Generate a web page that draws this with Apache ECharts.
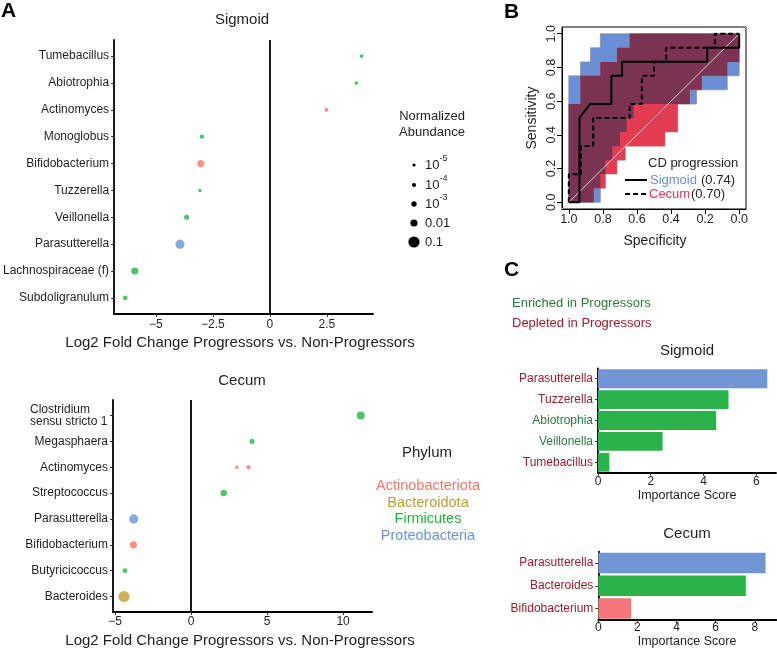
<!DOCTYPE html>
<html><head><meta charset="utf-8">
<script src="https://cdn.jsdelivr.net/npm/echarts@6/dist/echarts.min.js"></script>
<style>html,body{margin:0;padding:0;background:#fff}#c{width:777px;height:650px}</style>
</head><body><div id="c"></div>
<script>
// ===== Panel A data =====
const sigGenera = ['Tumebacillus','Abiotrophia','Actinomyces','Monoglobus','Bifidobacterium','Tuzzerella','Veillonella','Parasutterella','Lachnospiraceae (f)','Subdoligranulum'];
const sigLFC = [4.02, 3.79, 2.48, -2.98, -3.03, -3.07, -3.65, -3.94, -5.92, -6.34];
const sigAbund = [4e-5, 4e-5, 1e-4, 1.5e-4, 0.01, 2e-5, 6e-4, 0.03, 0.01, 3e-4];
const sigPhylum = ['Firmicutes','Firmicutes','Actinobacteriota','Firmicutes','Actinobacteriota','Firmicutes','Firmicutes','Proteobacteria','Firmicutes','Firmicutes'];

const cecGenera = ['Clostridium\nsensu stricto 1','Megasphaera','Actinomyces','Streptococcus','Parasutterella','Bifidobacterium','Butyricicoccus','Bacteroides'];
const cecPointGenus = [0, 1, 2, 2, 3, 4, 5, 6, 7];
const cecLFC = [11.16, 4.01, 3.01, 3.78, 2.15, -3.77, -3.79, -4.34, -4.41];
const cecAbund = [0.015, 6e-4, 2e-5, 1.5e-4, 0.004, 0.03, 0.01, 3e-4, 0.1];
const cecPhylum = ['Firmicutes','Firmicutes','Actinobacteriota','Actinobacteriota','Firmicutes','Proteobacteria','Actinobacteriota','Firmicutes','Bacteroidota'];

const sigTicks = [-5, -2.5, 0, 2.5];
const cecTicks = [-5, 0, 5, 10];

const phylumNames = ['Actinobacteriota','Bacteroidota','Firmicutes','Proteobacteria'];
const sizeLegendVals = [1e-5, 1e-4, 1e-3, 0.01, 0.1];
const sizeLegendLabels = [['10','-5'],['10','-4'],['10','-3'],['0.01',''],['0.1','']];

// ===== Panel B data (ROC) =====
const rocSigSpec = [1, 0.9375, 0.9375, 0.875, 0.75, 0.75, 0.6875, 0.6875, 0.1875, 0.1875, 0, 0];
const rocSigSens = [0, 0, 0.5, 0.5833, 0.5833, 0.75, 0.75, 0.8333, 0.8333, 0.9167, 0.9167, 1];
const rocCecSpec = [1, 1, 0.9286, 0.9286, 0.8571, 0.8571, 0.6429, 0.6429, 0.5714, 0.5714, 0.5, 0.5, 0.4286, 0.4286, 0.1429, 0.1429, 0];
const rocCecSens = [0, 0.1667, 0.1667, 0.3333, 0.3333, 0.5, 0.5, 0.5833, 0.5833, 0.75, 0.75, 0.8333, 0.8333, 0.9167, 0.9167, 1, 1];
// CI bands as step functions: [specificity where step starts (descending), sensitivity]
const ciSigUpper = [[1.0,0.75],[0.932,0.833],[0.873,0.917],[0.815,1.0]];
const ciSigLower = [[1.0,0],[0.815,0.167],[0.785,0.25],[0.745,0.333],[0.70,0.417],[0.66,0.5],[0.62,0.583],[0.25,0.667],[0.07,0.75]];
const ciCecUpper = [[1.0,0.583],[0.932,0.75],[0.815,0.833],[0.717,0.917],[0.643,1.0]];
const ciCecLower = [[1.0,0],[0.854,0.083],[0.785,0.167],[0.717,0.25],[0.668,0.333],[0.435,0.417],[0.36,0.583],[0.29,0.667],[0.22,0.75],[0.07,0.833]];
const rocTicks = [0, 0.2, 0.4, 0.6, 0.8, 1.0];
const aucSig = '0.74', aucCec = '0.70';

// ===== Panel C data =====
const impSigNames = ['Parasutterella','Tuzzerella','Abiotrophia','Veillonella','Tumebacillus'];
const impSigVals = [6.42, 4.95, 4.48, 2.45, 0.43];
const impSigGroup = ['Proteobacteria','Firmicutes','Firmicutes','Firmicutes','Firmicutes'];
const impSigDir = ['Depleted','Depleted','Enriched','Enriched','Depleted'];
const impCecNames = ['Parasutterella','Bacteroides','Bifidobacterium'];
const impCecVals = [8.55, 7.54, 1.68];
const impCecGroup = ['Proteobacteria','Firmicutes','Actinobacteriota'];
const impCecDir = ['Depleted','Depleted','Depleted'];
const impSigTicks = [0, 2, 4, 6];
const impCecTicks = [0, 2, 4, 6, 8];

// ===== styles =====
const FONT = '"Liberation Sans", Arial, Helvetica, sans-serif';
const phylumColors = {Actinobacteriota:'#F8766D', Bacteroidota:'#B8A032', Firmicutes:'#22B443', Proteobacteria:'#6C93D8'};
const barColors = {Actinobacteriota:'#F3777A', Bacteroidota:'#B8A032', Firmicutes:'#2CB24A', Proteobacteria:'#7096D4'};
const dirColors = {Enriched:'#2B7A3F', Depleted:'#9E1C2D'};
const sizeDiam = [3.1, 4.1, 5.4, 7.2, 11.2];
const TXT = '#1f1f1f';
const BLUE = '#6A8FD6', RED = '#E23B52', MAROON = '#7A3452';

function sizeOf(a){
  const l = Math.log10(a);
  if (l <= -5) return sizeDiam[0];
  if (l >= -1) return sizeDiam[4];
  const i = Math.floor(l + 5), f = l + 5 - i;
  return sizeDiam[i] + (sizeDiam[i+1]-sizeDiam[i]) * f;
}
const minus = v => (v < 0 ? '\u2212' : '') + Math.abs(v);

function stepVal(steps, s){
  let v = steps[0][1];
  for (const st of steps) if (s <= st[0]) v = st[1];
  return v;
}
function breaks(){
  const set = new Set([0]);
  for (const arr of arguments) for (const st of arr) set.add(st[0]);
  return Array.from(set).sort((a,b)=>b-a);
}
function band(lowF, upF, B){
  const up = [], lo = [];
  for (let i=0;i<B.length-1;i++){
    const a=B[i], b=B[i+1], m=(a+b)/2;
    up.push([a, upF(m)], [b, upF(m)]);
    lo.push([a, lowF(m)], [b, lowF(m)]);
  }
  return up.concat(lo.reverse());
}
const Ball = breaks(ciSigUpper, ciSigLower, ciCecUpper, ciCecLower);
const sigBand = band(s=>stepVal(ciSigLower,s), s=>stepVal(ciSigUpper,s), Ball);
const cecBand = band(s=>stepVal(ciCecLower,s), s=>stepVal(ciCecUpper,s), Ball);
const ovBand = band(s=>Math.max(stepVal(ciSigLower,s),stepVal(ciCecLower,s)),
                    s=>Math.min(stepVal(ciSigUpper,s),stepVal(ciCecUpper,s)), Ball);

function bandSeries(pts, fill, stroke){
  return {type:'custom', xAxisIndex:2, yAxisIndex:2, silent:true, data: pts,
    renderItem: function(params, api){
      if (params.dataIndex !== 0) return null;
      return {type:'polygon', shape:{points: pts.map(p=>api.coord(p))},
        style:{fill: fill, stroke: stroke || 'none', lineWidth: stroke ? 0.7 : 0}};
    }};
}

const axLine = {show:true, onZero:false, lineStyle:{color:'#000', width:1.8}};
const axTick = (cv) => ({show:true, customValues: cv, length:3, lineStyle:{color:'#333', width:1}});
const lab = (o) => Object.assign({fontFamily:FONT, fontSize:12, color:TXT}, o);

const sigIdx = sigGenera.map((_,i)=>i);
const cecIdx = cecGenera.map((_,i)=>i);

const option = {
  animation:false,
  backgroundColor:'#fff',
  grid:[
    {left:113, top:40, width:260, height:274},
    {left:113, top:400, width:259, height:212},
    {left:562, top:27, width:184, height:182, show:true, borderColor:'#000', borderWidth:1, backgroundColor:'transparent'},
    {left:598, top:368.3, width:178, height:104.4},
    {left:598.3, top:551.7, width:178, height:68.3}
  ],
  xAxis:[
    {gridIndex:0, type:'value', min:-6.83, max:4.52, axisLine:axLine, axisTick:axTick(sigTicks),
     axisLabel:lab({customValues:sigTicks, formatter:minus, margin:5}), splitLine:{show:false}},
    {gridIndex:1, type:'value', min:-5.13, max:11.9, axisLine:axLine, axisTick:axTick(cecTicks),
     axisLabel:lab({customValues:cecTicks, formatter:minus, margin:4}), splitLine:{show:false}},
    {gridIndex:2, type:'value', min:-0.04, max:1.04, inverse:true,
     axisLine:{show:true, onZero:false, lineStyle:{color:'#000', width:1}},
     axisTick:{show:true, customValues:rocTicks, length:5, lineStyle:{color:'#000'}},
     axisLabel:lab({customValues:rocTicks, formatter:v=>v.toFixed(1), margin:4, fontSize:12.5}), splitLine:{show:false}},
    {gridIndex:3, type:'value', min:0, max:6.75, axisLine:axLine, axisTick:axTick(impSigTicks),
     axisLabel:lab({customValues:impSigTicks, margin:3}), splitLine:{show:false}},
    {gridIndex:4, type:'value', min:0, max:9.1, axisLine:axLine, axisTick:axTick(impCecTicks),
     axisLabel:lab({customValues:impCecTicks, margin:2}), splitLine:{show:false}}
  ],
  yAxis:[
    {gridIndex:0, type:'value', min:-0.6, max:sigGenera.length-0.4, inverse:true, axisLine:axLine, axisTick:axTick(sigIdx),
     axisLabel:lab({customValues:sigIdx, formatter:v=>sigGenera[Math.round(v)], margin:5}), splitLine:{show:false}},
    {gridIndex:1, type:'value', min:-0.6, max:cecGenera.length-0.4, inverse:true, axisLine:axLine, axisTick:axTick(cecIdx),
     axisLabel:lab({customValues:cecIdx, margin:5,
       formatter:v=>{const n=cecGenera[Math.round(v)]; return n.indexOf('\n')>=0 ? n.split('\n').map(t=>'{l|'+t+'}').join('\n') : n;},
       rich:{l:{width:78, align:'left', fontSize:12, lineHeight:12.5, fontFamily:FONT, color:TXT}}}), splitLine:{show:false}},
    {gridIndex:2, type:'value', min:-0.04, max:1.04,
     axisLine:{show:true, onZero:false, lineStyle:{color:'#000', width:1}},
     axisTick:{show:true, customValues:rocTicks, length:5, lineStyle:{color:'#000'}},
     axisLabel:lab({customValues:rocTicks, formatter:v=>v.toFixed(1), rotate:90, margin:4, fontSize:12.5}), splitLine:{show:false}},
    {gridIndex:3, type:'category', data:impSigNames, inverse:true, axisLine:axLine,
     axisTick:{show:true, alignWithLabel:true, length:3, lineStyle:{color:'#333'}},
     axisLabel:lab({margin:5, color:(v,i)=>dirColors[impSigDir[i]]})},
    {gridIndex:4, type:'category', data:impCecNames, inverse:true, axisLine:axLine,
     axisTick:{show:true, alignWithLabel:true, length:3, lineStyle:{color:'#333'}},
     axisLabel:lab({margin:5, color:(v,i)=>dirColors[impCecDir[i]]})}
  ],
  series:[
    {type:'scatter', xAxisIndex:0, yAxisIndex:0, symbolSize:v=>sizeOf(v[2]),
     data: sigLFC.map((x,i)=>({value:[x, i, sigAbund[i]], itemStyle:{color:phylumColors[sigPhylum[i]]}})),
     markLine:{silent:true, symbol:'none', label:{show:false}, lineStyle:{color:'#000', width:1.8, type:'solid'}, data:[{xAxis:0}]}},
    {type:'scatter', xAxisIndex:1, yAxisIndex:1, symbolSize:v=>sizeOf(v[2]),
     data: cecLFC.map((x,i)=>({value:[x, cecPointGenus[i], cecAbund[i]], itemStyle:{color:phylumColors[cecPhylum[i]]}})),
     markLine:{silent:true, symbol:'none', label:{show:false}, lineStyle:{color:'#000', width:1.8, type:'solid'}, data:[{xAxis:0}]}},
    bandSeries(sigBand, BLUE, '#8c8c8c'),
    bandSeries(cecBand, RED, '#8c8c8c'),
    bandSeries(ovBand, MAROON, null),
    {type:'line', xAxisIndex:2, yAxisIndex:2, symbol:'none', silent:true, data:[[1.04,-0.04],[-0.04,1.04]],
     lineStyle:{color:'#d0d0d0', width:1}},
    {type:'line', xAxisIndex:2, yAxisIndex:2, symbol:'none', silent:true,
     data: rocSigSpec.map((s,i)=>[s, rocSigSens[i]]), lineStyle:{color:'#000', width:2}},
    {type:'line', xAxisIndex:2, yAxisIndex:2, symbol:'none', silent:true,
     data: rocCecSpec.map((s,i)=>[s, rocCecSens[i]]), lineStyle:{color:'#000', width:2, type:[5,3]}},
    {type:'bar', xAxisIndex:3, yAxisIndex:3, barCategoryGap:'10%', silent:true,
     data: impSigVals.map((v,i)=>({value:v, itemStyle:{color:barColors[impSigGroup[i]]}}))},
    {type:'bar', xAxisIndex:4, yAxisIndex:4, barCategoryGap:'10%', silent:true,
     data: impCecVals.map((v,i)=>({value:v, itemStyle:{color:barColors[impCecGroup[i]]}}))}
  ]
};

function T(text, x, y, o){
  o = o || {};
  const al = o.align || 'center';
  return {type:'text', x:x, y:y, rotation:o.rot||0, z:100, silent:true,
    style:{text:text, fill:o.color||TXT, font:(o.bold?'bold ':'')+(o.size||13)+'px '+FONT,
      align:al, verticalAlign:'middle', textAlign:al, textVerticalAlign:'middle'}};
}
const els = [];
// panel letters
els.push(T('A', 1, 11, {bold:true, size:21, align:'left', color:'#000'}));
els.push(T('B', 504, 12, {bold:true, size:21, align:'left', color:'#000'}));
els.push(T('C', 504, 270, {bold:true, size:21, align:'left', color:'#000'}));
// panel A titles
els.push(T('Sigmoid', 242, 20, {size:15}));
els.push(T('Cecum', 242, 381, {size:15}));
els.push(T('Log2 Fold Change Progressors vs. Non-Progressors', 240, 343, {size:15}));
els.push(T('Log2 Fold Change Progressors vs. Non-Progressors', 240, 641, {size:15}));
// size legend
els.push(T('Normalized', 432, 116, {size:13}));
els.push(T('Abundance', 432, 132, {size:13}));
const sizeY = [165, 185, 204, 223, 242];
sizeLegendVals.forEach((v,i)=>{
  els.push({type:'circle', z:100, silent:true, shape:{cx:414, cy:sizeY[i], r:sizeOf(v)/2}, style:{fill:'#000'}});
  els.push(T(sizeLegendLabels[i][0], 425, sizeY[i], {size:13, align:'left'}));
  if (sizeLegendLabels[i][1]) els.push(T(sizeLegendLabels[i][1], 439.5, sizeY[i]-6, {size:9, align:'left'}));
});
// phylum legend
els.push(T('Phylum', 427, 453, {size:15}));
const phyY = [486, 503, 519, 536];
phylumNames.forEach((p,i)=>els.push(T(p, 428, phyY[i], {size:14.5, color:phylumColors[p]})));
// panel B texts
els.push(T('Sensitivity', 532, 118, {size:14, rot:Math.PI/2}));
els.push(T('Specificity', 655, 241, {size:14}));
els.push(T('CD progression', 648, 163, {size:13, align:'left'}));
els.push({type:'line', z:100, silent:true, shape:{x1:625, y1:180, x2:647, y2:180}, style:{stroke:'#000', lineWidth:2}});
els.push({type:'line', z:100, silent:true, shape:{x1:625, y1:194, x2:647, y2:194}, style:{stroke:'#000', lineWidth:2, lineDash:[5,3]}});
els.push(T('Sigmoid', 650, 180, {size:13, align:'left', color:BLUE}));
els.push(T('(' + aucSig + ')', 701, 180, {size:13, align:'left'}));
els.push(T('Cecum', 649, 194, {size:13, align:'left', color:RED}));
els.push(T('(' + aucCec + ')', 691, 194, {size:13, align:'left'}));
// panel C texts
els.push(T('Enriched in Progressors', 512, 303, {size:13, align:'left', color:dirColors.Enriched}));
els.push(T('Depleted in Progressors', 512, 323, {size:13, align:'left', color:dirColors.Depleted}));
els.push(T('Sigmoid', 687, 351, {size:15}));
els.push(T('Cecum', 687, 534, {size:15}));
els.push(T('Importance Score', 687, 496, {size:12.5}));
els.push(T('Importance Score', 687, 642, {size:12.5}));
option.graphic = {elements: els};

const chart = echarts.init(document.getElementById('c'), null, {renderer:'canvas'});
chart.setOption(option);
</script></body></html>
